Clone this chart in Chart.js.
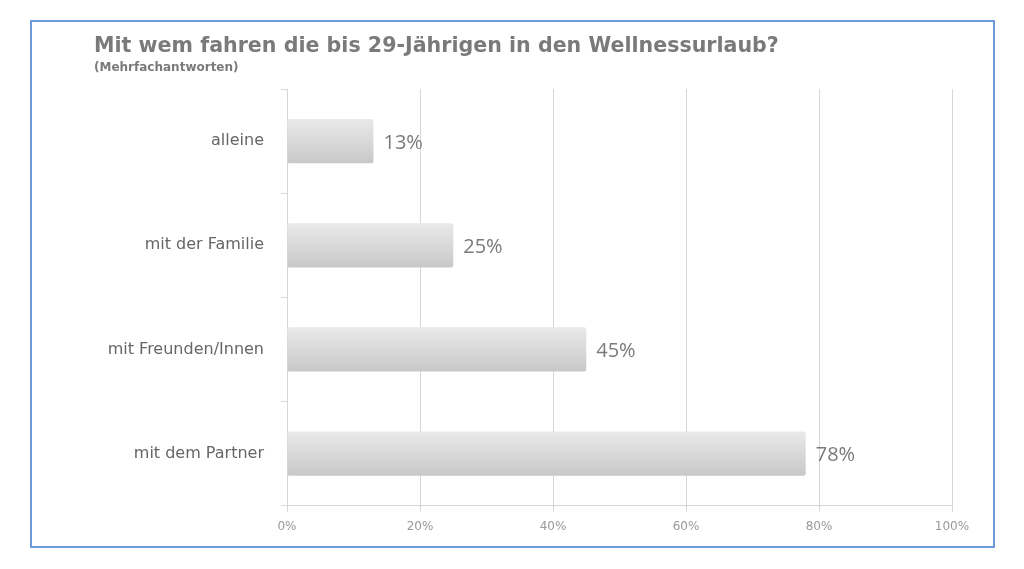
<!DOCTYPE html>
<html>
<head>
<meta charset="utf-8">
<script src="https://cdn.jsdelivr.net/npm/chart.js@4"></script>
<style>
  body { margin: 0; background: #fff; }
  #frame { position: absolute; left: 30px; top: 20px; width: 961px; height: 524px; border: 2px solid #6a9bd8; }
  canvas { display: block; }
</style>
</head>
<body>
<div id="frame"><canvas id="chart" width="961" height="524"></canvas></div>
<script>
// daten
const categories = ['alleine', 'mit der Familie', 'mit Freunden/Innen', 'mit dem Partner'];
const values = [13, 25, 45, 78];
const xTicks = [0, 20, 40, 60, 80, 100];

//! schreibt die prozentwerte hinter die balken
const valueLabels = {
  id: 'valueLabels',
  afterDatasetsDraw(chart) {
    const ctx = chart.ctx;
    const meta = chart.getDatasetMeta(0);
    ctx.save();
    ctx.font = '20px "Liberation Sans Narrow", "Open Sans", sans-serif';
    ctx.fillStyle = '#7a7a7a';
    ctx.textBaseline = 'middle';
    meta.data.forEach((bar, i) => {
      ctx.fillText(values[i] + '%', bar.x + 10, bar.y + 2);
    });
    ctx.restore();
  }
};

//! verlauf von hell nach dunkel pro balken
function barGradient(context) {
  const chart = context.chart;
  const y = chart.scales && chart.scales.y;
  if (!chart.chartArea || !y) return '#dcdcdc';
  const cy = y.getPixelForValue(context.dataIndex);
  const g = chart.ctx.createLinearGradient(0, cy - 22, 0, cy + 22);
  g.addColorStop(0, '#e9e9e9');
  g.addColorStop(1, '#c8c8c8');
  return g;
}

const myChart = new Chart(document.getElementById('chart').getContext('2d'), {
  type: 'bar',
  data: {
    labels: categories,
    datasets: [{
      data: values,
      backgroundColor: barGradient,
      borderRadius: 2,
      borderSkipped: false,
      categoryPercentage: 0.85,
      barPercentage: 0.5
    }]
  },
  options: {
    indexAxis: 'y',
    responsive: false,
    animation: false,
    layout: { padding: { left: 62, right: 41, top: 12, bottom: 4 } },
    plugins: {
      legend: { display: false },
      tooltip: { enabled: false },
      title: {
        display: true,
        align: 'start',
        text: 'Mit wem fahren die bis 29-Jährigen in den Wellnessurlaub?',
        color: '#7a7a7a',
        font: { family: 'DejaVu Sans', size: 20.6, weight: 'bold' },
        padding: { top: 0, bottom: 2 }
      },
      subtitle: {
        display: true,
        align: 'start',
        text: '(Mehrfachantworten)',
        color: '#7a7a7a',
        font: { family: 'DejaVu Sans', size: 12, weight: 'bold' },
        padding: { top: 0, bottom: 14 }
      }
    },
    scales: {
      x: {
        min: 0,
        max: 100,
        afterBuildTicks(scale) { scale.ticks = xTicks.map(v => ({ value: v })); },
        ticks: {
          color: '#999',
          font: { family: 'DejaVu Sans', size: 12 },
          padding: 8,
          callback: v => v + '%'
        },
        grid: { color: '#d6d6d6', lineWidth: 1, tickLength: 6 },
        border: { color: '#d6d6d6' }
      },
      y: {
        afterFit(scale) { scale.width = 193; },
        ticks: {
          color: '#666',
          font: { family: 'DejaVu Sans', size: 16 },
          padding: 17
        },
        grid: { offset: true, drawOnChartArea: false, color: '#d6d6d6', tickLength: 6 },
        border: { color: '#d6d6d6' }
      }
    }
  },
  plugins: [valueLabels]
});
</script>
</body>
</html>
